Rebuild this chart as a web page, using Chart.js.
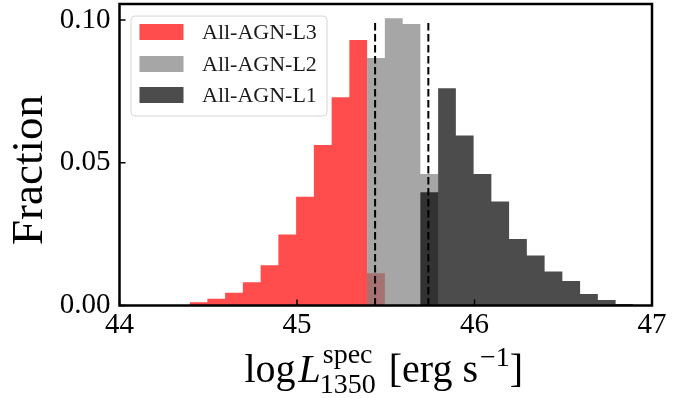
<!DOCTYPE html>
<html>
<head>
<meta charset="utf-8">
<script src="https://cdn.jsdelivr.net/npm/chart.js@4.4.1/dist/chart.umd.min.js"></script>
<style>
  html, body { margin: 0; padding: 0; background: #ffffff; }
  #wrap { width: 694px; height: 398px; position: relative; }
</style>
</head>
<body>
<div id="wrap"><canvas id="chart" width="694" height="398"></canvas></div>
<script>
// Histogram bin edges in log L1350 (25 bins of width 0.1 dex)
const binEdges = [44.395, 44.495, 44.595, 44.695, 44.795, 44.895, 44.995, 45.095, 45.195,
                  45.295, 45.395, 45.495, 45.595, 45.695, 45.795, 45.895, 45.995, 46.095,
                  46.195, 46.295, 46.395, 46.495, 46.595, 46.695, 46.795, 46.895];

// Fraction of sources per bin for each luminosity subsample
const fracL3 = [0.0011, 0.0024, 0.0045, 0.0081, 0.0141, 0.0249, 0.0381, 0.0562, 0.0729, 0.0930,
                0.0113, 0, 0, 0, 0, 0, 0, 0, 0, 0, 0, 0, 0, 0, 0];
const fracL2 = [0, 0, 0, 0, 0, 0, 0, 0, 0, 0,
                0.0867, 0.1006, 0.0986, 0.0461, 0, 0, 0, 0, 0, 0, 0, 0, 0, 0, 0];
const fracL1 = [0, 0, 0, 0, 0, 0, 0, 0, 0, 0,
                0, 0, 0, 0.0397, 0.0761, 0.0595, 0.0461, 0.0364, 0.0233, 0.0175, 0.0119, 0.0086, 0.0040, 0.0019, 0.0005];

// Subsample boundaries (dashed lines) and their height
const cutValues = [45.44, 45.74];
const cutTop = 0.10;

// Axis ranges and tick labels
const xRange = [44, 47];
const xTicks = [44, 45, 46, 47];
const yRange = [0, 0.1056];
const yTicks = [0.00, 0.05, 0.10];

const seriesLabels = ['All-AGN-L3', 'All-AGN-L2', 'All-AGN-L1'];
const seriesColors = ['rgba(255,0,0,0.7)', 'rgba(128,128,128,0.7)', 'rgba(0,0,0,0.7)'];

const SERIF = '"Liberation Serif", "Times New Roman", serif';

// Turn per-bin fractions into step points (value applies from its left edge)
function stepPoints(vals) {
  const pts = vals.map((v, i) => ({ x: binEdges[i], y: v }));
  pts.push({ x: binEdges[binEdges.length - 1], y: vals[vals.length - 1] });
  return pts;
}

const histSets = [fracL3, fracL2, fracL1].map((vals, i) => ({
  type: 'line',
  label: seriesLabels[i],
  data: stepPoints(vals),
  stepped: 'before',
  fill: 'origin',
  backgroundColor: seriesColors[i],
  borderColor: 'rgba(0,0,0,0)',
  borderWidth: 0,
  pointRadius: 0,
  order: 10 - i
}));

const cutSets = cutValues.map(c => ({
  type: 'line',
  label: '',
  data: [{ x: c, y: 0 }, { x: c, y: cutTop }],
  borderColor: '#000000',
  borderWidth: 2,
  borderDash: [7.5, 3.5],
  pointRadius: 0,
  fill: false,
  order: 0
}));

// Frame, inward ticks, legend and the axis titles
const decorations = {
  id: 'decorations',
  afterDatasetsDraw(chart) {
    const ctx = chart.ctx;
    const a = chart.chartArea;
    const xs = chart.scales.x, ys = chart.scales.y;
    ctx.save();
    ctx.strokeStyle = '#000';
    // inward ticks
    ctx.lineWidth = 1.5;
    xTicks.forEach(t => {
      const px = xs.getPixelForValue(t);
      ctx.beginPath(); ctx.moveTo(px, a.bottom); ctx.lineTo(px, a.bottom - 6); ctx.stroke();
    });
    yTicks.forEach(t => {
      const py = ys.getPixelForValue(t);
      ctx.beginPath(); ctx.moveTo(a.left, py); ctx.lineTo(a.left + 6, py); ctx.stroke();
    });
    // frame
    ctx.lineWidth = 2.5;
    ctx.strokeRect(a.left, a.top, a.right - a.left, a.bottom - a.top);

    // legend
    const lx = 131, ly = 16, lw = 196, lh = 100, r = 4;
    ctx.beginPath();
    ctx.moveTo(lx + r, ly);
    ctx.arcTo(lx + lw, ly, lx + lw, ly + lh, r);
    ctx.arcTo(lx + lw, ly + lh, lx, ly + lh, r);
    ctx.arcTo(lx, ly + lh, lx, ly, r);
    ctx.arcTo(lx, ly, lx + lw, ly, r);
    ctx.closePath();
    ctx.fillStyle = 'rgba(255,255,255,0.8)';
    ctx.fill();
    ctx.lineWidth = 1;
    ctx.strokeStyle = '#d6d6d6';
    ctx.stroke();
    const rowY = [32, 64, 95];
    ctx.font = '22px ' + SERIF;
    ctx.textBaseline = 'middle';
    ctx.textAlign = 'left';
    histSets.forEach((ds, i) => {
      ctx.fillStyle = ds.backgroundColor;
      ctx.fillRect(139.5, rowY[i] - 8, 44, 16);
      ctx.fillStyle = '#1a1a1a';
      ctx.fillText(ds.label, 202, rowY[i] + 1);
    });

    // y-axis title
    ctx.fillStyle = '#000';
    ctx.save();
    ctx.translate(42, 170);
    ctx.rotate(-Math.PI / 2);
    ctx.textAlign = 'center';
    ctx.textBaseline = 'alphabetic';
    ctx.font = '45px ' + SERIF;
    ctx.fillText('Fraction', 0, 0);
    ctx.restore();

    // x-axis title: log L_1350^spec [erg s^-1]
    const base = 382;
    const big = 40, small = 28;
    ctx.textAlign = 'left';
    ctx.textBaseline = 'alphabetic';
    ctx.font = big + 'px ' + SERIF; const wLog = ctx.measureText('log').width;
    ctx.font = 'italic ' + big + 'px ' + SERIF; const wL = ctx.measureText('L').width;
    ctx.font = small + 'px ' + SERIF;
    const wSub = ctx.measureText('1350').width, wSup = ctx.measureText('spec').width;
    const wScr = Math.max(wSub, wSup);
    const wM1 = ctx.measureText('\u22121').width;
    ctx.font = big + 'px ' + SERIF;
    const wMid = ctx.measureText(' [erg s').width, wEnd = ctx.measureText(']').width;
    const total = wLog + 3 + wL + 2 + wScr + wMid + 2 + wM1 + wEnd;
    let x = (a.left + a.right) / 2 - total / 2 - 2;
    ctx.font = big + 'px ' + SERIF; ctx.fillText('log', x, base); x += wLog + 3;
    ctx.font = 'italic ' + big + 'px ' + SERIF; ctx.fillText('L', x, base); x += wL + 2;
    ctx.font = small + 'px ' + SERIF;
    ctx.fillText('spec', x, base - 19);
    ctx.fillText('1350', x - 3, base + 11);
    x += wScr;
    ctx.font = big + 'px ' + SERIF; ctx.fillText(' [erg s', x, base); x += wMid + 2;
    ctx.font = small + 'px ' + SERIF; ctx.fillText('\u22121', x, base - 16); x += wM1;
    ctx.font = big + 'px ' + SERIF; ctx.fillText(']', x, base);
    ctx.restore();
  }
};

new Chart(document.getElementById('chart'), {
  type: 'line',
  data: { datasets: [...histSets, ...cutSets] },
  options: {
    responsive: false,
    animation: false,
    events: [],
    layout: { padding: { left: 0, right: 42, top: 4, bottom: 0 } },
    plugins: { legend: { display: false }, tooltip: { enabled: false } },
    scales: {
      x: {
        type: 'linear',
        min: xRange[0], max: xRange[1],
        grid: { display: false, drawTicks: false },
        border: { display: false },
        afterBuildTicks: s => { s.ticks = xTicks.map(v => ({ value: v })); },
        afterFit: s => { s.height = 92.5; s.paddingLeft = 0; s.paddingRight = 0; },
        ticks: {
          autoSkip: false, maxRotation: 0, padding: 2,
          color: '#000',
          font: { family: SERIF, size: 29 },
          callback: v => String(v)
        }
      },
      y: {
        type: 'linear',
        min: yRange[0], max: yRange[1],
        grid: { display: false, drawTicks: false },
        border: { display: false },
        afterBuildTicks: s => { s.ticks = yTicks.map(v => ({ value: v })); },
        afterFit: s => { s.width = 119.5; s.paddingTop = 0; s.paddingBottom = 0; },
        ticks: {
          padding: 9, color: '#000',
          font: { family: SERIF, size: 29 },
          callback: v => v.toFixed(2)
        }
      }
    }
  },
  plugins: [decorations]
});
</script>
</body>
</html>
